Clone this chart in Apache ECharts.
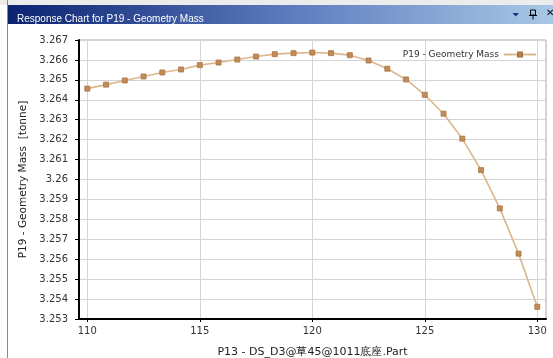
<!DOCTYPE html>
<html>
<head>
<meta charset="utf-8">
<script src="https://cdn.jsdelivr.net/npm/echarts@6/dist/echarts.min.js"></script>
<style>
html,body{margin:0;padding:0;background:#fff;}
#c{width:553px;height:358px;}
</style>
</head>
<body>
<div id="c"></div>
<script>
const xValues = [110, 110.8333, 111.6667, 112.5, 113.3333, 114.1667, 115, 115.8333, 116.6667, 117.5, 118.3333, 119.1667, 120, 120.8333, 121.6667, 122.5, 123.3333, 124.1667, 125, 125.8333, 126.6667, 127.5, 128.3333, 129.1667, 130];
const massValues = [3.26456, 3.26476, 3.26497, 3.26517, 3.26537, 3.26552, 3.26574, 3.26587, 3.26602, 3.26617, 3.26629, 3.26634, 3.26637, 3.26634, 3.26624, 3.26597, 3.26556, 3.26502, 3.26425, 3.26330, 3.26205, 3.26047, 3.25855, 3.25628, 3.25361];
const seriesName = 'P19 - Geometry Mass';
const windowTitle = 'Response Chart for P19 - Geometry Mass';
const xAxisTitle = 'P13 - DS_D3@草45@1011底座.Part';
const yAxisTitle = 'P19 - Geometry Mass  [tonne]';

const chart = echarts.init(document.getElementById('c'), null, {renderer: 'canvas'});
const data = xValues.map((x, i) => [x, massValues[i]]);
const lab = {fontFamily: 'DejaVu Sans', fontSize: 10, color: '#333'};

chart.setOption({
  animation: false,
  backgroundColor: '#ffffff',
  title: {
    text: windowTitle, left: 12, top: 9,
    textStyle: {color: '#ffffff', fontFamily: 'Liberation Sans', fontSize: 10, fontWeight: 'normal'}
  },
  graphic: [
    {type: 'rect', z: -10, shape: {x: 0, y: 0, width: 553, height: 5}, style: {fill: '#ececec'}},
    {type: 'rect', z: -5, shape: {x: 7, y: 5, width: 546, height: 19},
      style: {fill: new echarts.graphic.LinearGradient(0, 0, 1, 0, [
        {offset: 0, color: '#0a2270'}, {offset: 0.5, color: '#5a78bc'}, {offset: 1, color: '#a9c8e6'}])}},
    {type: 'line', shape: {x1: 7.5, y1: 0, x2: 7.5, y2: 358}, style: {stroke: '#8a8a8a', lineWidth: 1}},
    {type: 'polygon', shape: {points: [[512.5, 13], [519, 13], [515.75, 16.5]]}, style: {fill: '#1c2f80'}},
    {type: 'rect', shape: {x: 530.5, y: 10, width: 5, height: 5}, style: {fill: 'none', stroke: '#000', lineWidth: 1}},
    {type: 'line', shape: {x1: 529, y1: 15.5, x2: 537, y2: 15.5}, style: {stroke: '#000', lineWidth: 1}},
    {type: 'line', shape: {x1: 533, y1: 15.5, x2: 533, y2: 19.5}, style: {stroke: '#000', lineWidth: 1}},
    {type: 'text', left: 546, top: 8, style: {text: '✕', fill: '#000', font: '10px DejaVu Sans'}}
  ],
  legend: {
    right: 11, top: 45, align: 'right', itemWidth: 32, itemHeight: 5,
    textStyle: {fontFamily: 'DejaVu Sans', fontSize: 9, color: '#333'},
    data: [seriesName]
  },
  grid: [
    {left: 79, right: 7, top: 40, bottom: 39, show: true, borderColor: '#aaaaaa', borderWidth: 1, backgroundColor: 'transparent', outerBoundsMode: 'none', containLabel: false},
    {left: 87.3, right: 15.7, top: 40, bottom: 39, outerBoundsMode: 'none', containLabel: false}
  ],
  xAxis: [
    {gridIndex: 0, type: 'value', min: 0, max: 1,
      name: xAxisTitle, nameLocation: 'middle', nameGap: 28,
      nameTextStyle: {fontFamily: 'DejaVu Sans', fontSize: 11, color: '#222'},
      axisLine: {show: true, lineStyle: {color: '#000', width: 2}},
      axisTick: {show: false}, axisLabel: {show: false}, splitLine: {show: false}},
    {gridIndex: 1, type: 'value', min: 110, max: 130, interval: 5,
      axisLine: {show: false},
      axisTick: {show: true, length: 3, lineStyle: {color: '#000'}},
      axisLabel: Object.assign({margin: 7}, lab),
      splitLine: {show: true, lineStyle: {color: '#d4d4d4', width: 1}}}
  ],
  yAxis: [
    {gridIndex: 0, type: 'value', min: 3.253, max: 3.267, interval: 0.001,
      name: yAxisTitle, nameLocation: 'middle', nameGap: 40,
      nameTextStyle: {fontFamily: 'DejaVu Sans', fontSize: 10.5, color: '#222'},
      axisLine: {show: true, lineStyle: {color: '#000', width: 2}},
      axisTick: {show: true, length: 4, lineStyle: {color: '#000'}},
      axisLabel: Object.assign({margin: 11}, lab),
      splitLine: {show: true, lineStyle: {color: '#d4d4d4', width: 1}}},
    {gridIndex: 1, type: 'value', min: 3.253, max: 3.267, interval: 0.001, show: false}
  ],
  series: [{
    name: seriesName, type: 'line', xAxisIndex: 1, yAxisIndex: 1,
    data: data, symbol: 'rect', symbolSize: 5, showSymbol: true,
    lineStyle: {color: '#dcb78d', width: 1.6},
    itemStyle: {color: '#c08c58', borderColor: '#a87440', borderWidth: 0.8},
    z: 5
  }]
});
</script>
</body>
</html>
